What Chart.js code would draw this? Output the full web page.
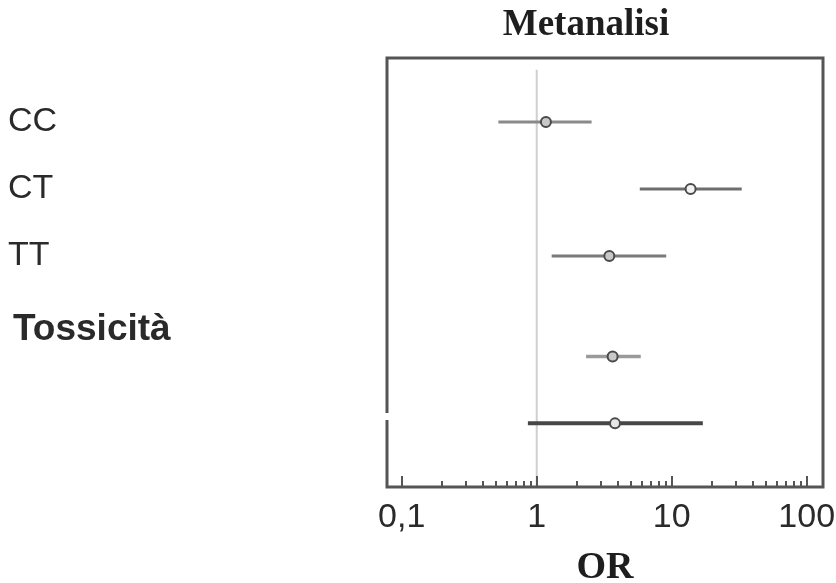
<!DOCTYPE html>
<html>
<head>
<meta charset="utf-8">
<script src="https://cdn.jsdelivr.net/npm/chart.js@4/dist/chart.umd.min.js"></script>
<style>
  html, body { margin: 0; padding: 0; background: #fff; }
  #wrap { width: 836px; height: 583px; }
</style>
</head>
<body>
<div id="wrap"><canvas id="forest"></canvas></div>
<script>
// row labels on the left and the row they sit on
const rowLabels = ["CC", "CT", "TT", "Tossicità"];
const labelRows = [1, 2, 3, 4.1];

// odds ratios with confidence intervals, one per plotted row
const pointRows = [1, 2, 3, 4.5, 5.5];
const oddsRatio = [1.17, 13.8, 3.45, 3.65, 3.8];
const ciLower = [0.52, 5.8, 1.29, 2.32, 0.86];
const ciUpper = [2.55, 33, 9.1, 5.9, 17];

// axis ticks
const tickValues = [0.1, 1, 10, 100];
const tickLabels = ["0,1", "1", "10", "100"];
const minorTicks = [0.2, 0.3, 0.4, 0.5, 0.6, 0.7, 0.8, 0.9,
                    2, 3, 4, 5, 6, 7, 8, 9,
                    20, 30, 40, 50, 60, 70, 80, 90];

const lineColors = ["#8a8a8a", "#6e6e6e", "#7a7a7a", "#9a9a9a", "#474747"];
const lineWidths = [3, 3, 3, 3.5, 4];

document.addEventListener("DOMContentLoaded", function () {
  const canvasEl = document.getElementById("forest");

  const datasets = [];

  // point estimates on top
  datasets.push({
    type: "scatter",
    data: pointRows.map((r, i) => ({ x: oddsRatio[i], y: r })),
    pointStyle: "circle",
    pointRadius: 5,
    pointBorderWidth: 2,
    pointBorderColor: "#4a4a4a",
    pointBackgroundColor: ["#c8c8c8", "#f2f2f2", "#c8c8c8", "#c8c8c8", "#e6e6e6"],
    order: 0
  });

  // confidence intervals
  pointRows.forEach((r, i) => {
    datasets.push({
      type: "line",
      data: [{ x: ciLower[i], y: r }, { x: ciUpper[i], y: r }],
      borderColor: lineColors[i],
      borderWidth: lineWidths[i],
      pointRadius: 0,
      fill: false,
      order: 1
    });
  });

  // no-effect line at OR = 1
  datasets.push({
    type: "line",
    data: [{ x: 1, y: 0.22 }, { x: 1, y: 6.45 }],
    borderColor: "#cfcfcf",
    borderWidth: 2,
    pointRadius: 0,
    fill: false,
    order: 2
  });

  const framePlugin = {
    id: "frame",
    afterDraw(chart) {
      const { ctx, chartArea: a, scales } = chart;
      const x = scales.x, y = scales.y;
      ctx.save();

      // box round the plot, with the small gap on the left side
      ctx.strokeStyle = "#555";
      ctx.lineWidth = 3;
      ctx.beginPath();
      ctx.moveTo(a.left, 413);
      ctx.lineTo(a.left, a.top);
      ctx.lineTo(a.right, a.top);
      ctx.lineTo(a.right, a.bottom);
      ctx.lineTo(a.left, a.bottom);
      ctx.lineTo(a.left, 420);
      ctx.stroke();

      // tick marks pointing into the plot
      ctx.lineWidth = 2;
      ctx.beginPath();
      tickValues.forEach(v => {
        const px = Math.round(x.getPixelForValue(v));
        ctx.moveTo(px, a.bottom);
        ctx.lineTo(px, a.bottom - 11);
      });
      minorTicks.forEach(v => {
        const px = Math.round(x.getPixelForValue(v));
        ctx.moveTo(px, a.bottom);
        ctx.lineTo(px, a.bottom - 6);
      });
      ctx.stroke();

      // row labels
      ctx.fillStyle = "#2a2a2a";
      ctx.textBaseline = "middle";
      ctx.textAlign = "left";
      rowLabels.forEach((t, i) => {
        const bold = i === rowLabels.length - 1;
        ctx.font = (bold ? "bold 37px " : "34px ") + "'Liberation Sans', Arial, sans-serif";
        ctx.fillText(t, bold ? 13 : 8, y.getPixelForValue(labelRows[i]));
      });

      // chart title
      ctx.fillStyle = "#1e1e1e";
      ctx.textAlign = "center";
      ctx.font = "bold 37px 'Liberation Serif', 'Times New Roman', serif";
      ctx.fillText("Metanalisi", 586, 25);

      ctx.restore();
    }
  };

  new Chart(canvasEl.getContext("2d"), {
    data: { datasets: datasets },
    options: {
      responsive: true,
      maintainAspectRatio: false,
      animation: false,
      layout: { padding: { left: 387, right: 13, top: 58, bottom: 0 } },
      plugins: {
        legend: { display: false },
        tooltip: { enabled: false },
        title: { display: false }
      },
      scales: {
        x: {
          type: "logarithmic",
          min: 0.0778,
          max: 132,
          afterBuildTicks: scale => {
            scale.ticks = tickValues.map(v => ({ value: v }));
          },
          afterFit: scale => {
            scale.height = 96;
            scale.paddingLeft = 0;
            scale.paddingRight = 0;
          },
          grid: { display: false, drawTicks: false },
          border: { display: false },
          ticks: {
            autoSkip: false,
            maxRotation: 0,
            padding: 14,
            color: "#2a2a2a",
            font: { family: "'Liberation Sans', Arial, sans-serif", size: 34, lineHeight: 1 },
            callback: function (value) {
              const i = tickValues.indexOf(value);
              return i >= 0 ? tickLabels[i] : "";
            }
          },
          title: {
            display: true,
            text: "OR",
            color: "#1e1e1e",
            font: { family: "'Liberation Serif', 'Times New Roman', serif", size: 38, weight: "bold", lineHeight: 0.8 },
            padding: { top: 0, bottom: 0 }
          }
        },
        y: {
          type: "linear",
          display: false,
          reverse: true,
          min: 0.045,
          max: 6.45
        }
      }
    },
    plugins: [framePlugin]
  });
});
</script>
</body>
</html>
